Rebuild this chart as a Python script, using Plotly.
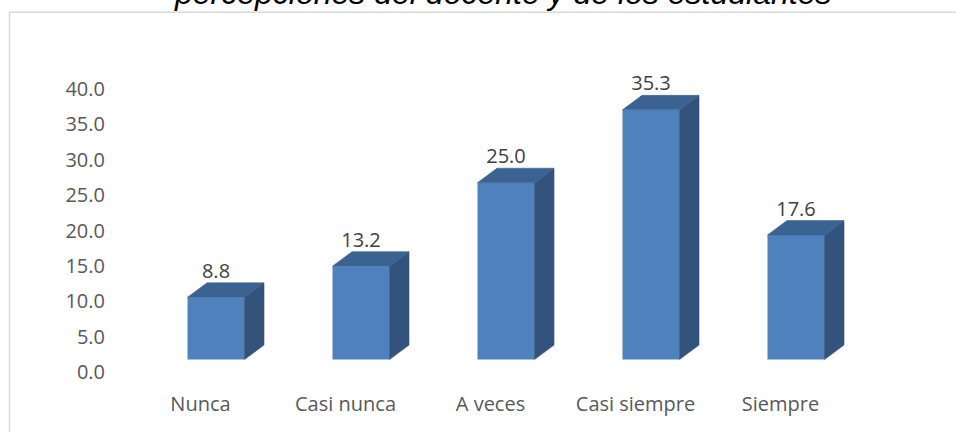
import plotly.graph_objects as go

categories = ["Nunca", "Casi nunca", "A veces", "Casi siempre", "Siempre"]
values = [8.8, 13.2, 25.0, 35.3, 17.6]
tick_values = [0, 5, 10, 15, 20, 25, 30, 35, 40]
title_text = "percepciones del docente y de los estudiantes"

# geometry / style constants (pixels converted to axis units)
PX_X = 145.0          # px per category
PX_Y = 7.1            # px per value unit
FLOOR = 12.5 / PX_Y   # front faces sit slightly above the axis zero
W = 57 / PX_X         # front face width
SHIFT = 15.5 / PX_X   # bar centre offset from category centre
DX = 19.5 / PX_X      # 3D depth x
DY = 14.5 / PX_Y      # 3D depth y

FRONT = "#4F81BD"
TOP = "#3B6391"
SIDE = "#33537D"

idx = list(range(len(categories)))

fig = go.Figure()

# front faces
fig.add_trace(go.Bar(
    x=idx, y=values, base=0, width=W, offset=SHIFT - W / 2,
    marker=dict(color=FRONT, line=dict(width=0)),
    hoverinfo="skip", showlegend=False,
))

# side and top faces
sx, sy, tx, ty = [], [], [], []
for i, v in zip(idx, values):
    xl = i + SHIFT - W / 2
    xr = i + SHIFT + W / 2
    sx += [xr, xr + DX, xr + DX, xr, xr, None]
    sy += [0, DY, v + DY, v, 0, None]
    tx += [xl, xl + DX, xr + DX, xr, xl, None]
    ty += [v, v + DY, v + DY, v, v, None]

fig.add_trace(go.Scatter(x=sx, y=sy, mode="lines", fill="toself",
                         fillcolor=SIDE, line=dict(width=0.6, color=SIDE),
                         hoverinfo="skip", showlegend=False))
fig.add_trace(go.Scatter(x=tx, y=ty, mode="lines", fill="toself",
                         fillcolor=TOP, line=dict(width=0.6, color=TOP),
                         hoverinfo="skip", showlegend=False))

# data labels
fig.add_trace(go.Scatter(
    x=[i + SHIFT for i in idx], y=[v + DY for v in values],
    mode="text", text=[f"{v:.1f}" for v in values],
    textposition="top center",
    textfont=dict(family="Open Sans", size=20, color="#404040"),
    cliponaxis=False, hoverinfo="skip", showlegend=False,
))

# invisible trace for the labelled value axis
fig.add_trace(go.Scatter(x=[0], y=[0], yaxis="y2", mode="markers",
                         marker=dict(opacity=0), hoverinfo="skip",
                         showlegend=False))

FW, FH = 956, 432
L, T = 128, 89
PW, PH = 725, 283.5
R = FW - L - PW
B = FH - T - PH


def px_x(screen):
    return (screen - L) / PW


def px_y(screen):
    return (T + PH - screen) / PH


fig.update_layout(
    width=FW, height=FH,
    margin=dict(l=L, r=R, t=T, b=B, pad=0),
    paper_bgcolor="white", plot_bgcolor="white",
    showlegend=False,
    xaxis=dict(range=[-0.5, 4.5], tickvals=idx, ticktext=categories,
               showgrid=False, zeroline=False, showline=False, ticks="",
               ticklabelstandoff=18,
               tickfont=dict(family="Open Sans", size=20, color="#595959"),
               fixedrange=True),
    yaxis=dict(range=[-FLOOR, 40 - FLOOR], showticklabels=False,
               showgrid=False, zeroline=False, showline=False, ticks="",
               fixedrange=True),
    yaxis2=dict(range=[0, 40], overlaying="y", side="left",
                tickvals=tick_values, tickformat=".1f",
                showgrid=False, zeroline=False, showline=False, ticks="",
                ticklabelstandoff=22,
                tickfont=dict(family="Open Sans", size=20, color="#595959"),
                fixedrange=True),
    shapes=[dict(type="rect", xref="paper", yref="paper",
                 x0=px_x(9.5), x1=px_x(990), y0=px_y(470), y1=px_y(12),
                 line=dict(color="#D9D9D9", width=1.5),
                 fillcolor="rgba(0,0,0,0)", layer="below")],
    annotations=[dict(text=title_text, xref="paper", yref="paper",
                      x=px_x(502), y=px_y(13), xanchor="center",
                      yanchor="bottom", showarrow=False,
                      font=dict(family="Liberation Sans", size=32,
                                color="black", style="italic"))],
)

fig.write_html(
    "out.html",
    config={"displayModeBar": False},
    post_script="document.body.style.margin='0';"
                "document.body.style.overflow='hidden';",
)
